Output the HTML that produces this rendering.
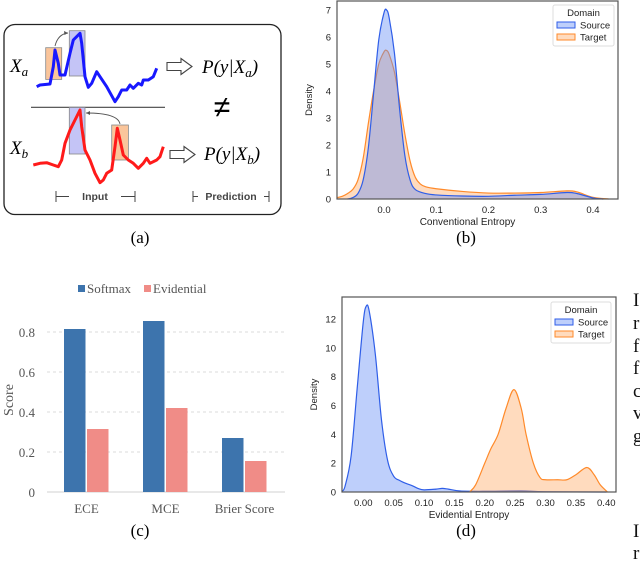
<!DOCTYPE html>
<html><head><meta charset="utf-8">
<style>
body{margin:0;background:#fff;width:640px;height:571px;overflow:hidden;font-family:"Liberation Sans",sans-serif;}
svg{display:block}
.ser{font-family:"Liberation Serif",serif}
</style></head>
<body>
<svg width="640" height="571" viewBox="0 0 640 571" xmlns="http://www.w3.org/2000/svg" id="fig">
<g id="pa">
 <rect x="4" y="24.5" width="277" height="190" rx="11" fill="#fff" stroke="#222" stroke-width="1.3"/>
 <rect x="45.7" y="47.7" width="16" height="31.7" fill="#f8b27a" fill-opacity="0.75" stroke="#888" stroke-width="0.8"/>
 <rect x="69.3" y="30.7" width="15.7" height="45.3" fill="#9c9cf0" fill-opacity="0.6" stroke="#888" stroke-width="0.8"/>
 <polyline fill="none" stroke="#1818ff" stroke-width="3" stroke-linejoin="round" points="36.7,86.7 40,85 50,84 53.3,66.7 55,50 58.3,63.3 60,75 65,75 70,53.3 73.3,40 80,33.3 81.7,43.3 85,76.7 88.3,87.3 91.7,83.3 96.7,71.7 100,76.7 106.7,86.7 115,101.7 118.3,96.7 121.7,90 126.7,90 130,85 133.3,88.3 138.3,83.3 141.7,85 143.3,80 148.3,80 153.3,76.7 156.7,68.3"/>
 <path d="M55,46 Q58,34 68,33" fill="none" stroke="#555" stroke-width="0.9"/>
 <path d="M68,33 l-4,-2 l0.5,4 z" fill="#555"/>
 <line x1="31" y1="107.3" x2="165" y2="107.3" stroke="#444" stroke-width="1.1"/>
 <rect x="69.3" y="107.3" width="15.7" height="46.7" fill="#9c9cf0" fill-opacity="0.6" stroke="#888" stroke-width="0.8"/>
 <rect x="111.7" y="125" width="16.7" height="35" fill="#f8b27a" fill-opacity="0.75" stroke="#888" stroke-width="0.8"/>
 <polyline fill="none" stroke="#ff1a1a" stroke-width="3" stroke-linejoin="round" points="33.3,165 40,163.3 46.7,162.7 53.3,165 58.3,166.7 61.7,160 65,143.3 70,130 75,120 80,110 81.7,126.7 85,150 90,160 95,173.3 100,182.7 103.3,180 106.7,173.3 111.7,170 115,146.7 117.3,128.3 120,140 123.3,155 128.3,160 133.3,163.3 138.3,168.3 143.3,163.3 146.7,158.3 150,163.3 156.7,160 160,156.7 163.3,146.7"/>
 <path d="M120,124 Q118,113 86,113" fill="none" stroke="#555" stroke-width="0.9"/>
 <path d="M86,113 l4,-2 l0,4 z" fill="#555"/>
 <text x="10" y="72" class="ser" font-size="19" font-style="italic">X<tspan font-size="13" dy="4">a</tspan></text>
 <text x="10" y="154" class="ser" font-size="19" font-style="italic">X<tspan font-size="13" dy="4">b</tspan></text>
 <path d="M167,62.5 h14 v-4 l11,8 l-11,8 v-4 h-14 z" fill="#fff" stroke="#444" stroke-width="1.1"/>
 <path d="M170,150.5 h14 v-4 l11,8 l-11,8 v-4 h-14 z" fill="#fff" stroke="#444" stroke-width="1.1"/>
 <text x="202" y="73" class="ser" font-size="19" font-style="italic">P(y|X<tspan font-size="13" dy="4">a</tspan><tspan dy="-4">)</tspan></text>
 <text x="204" y="160" class="ser" font-size="19" font-style="italic">P(y|X<tspan font-size="13" dy="4">b</tspan><tspan dy="-4">)</tspan></text>
 <text x="222" y="117" font-size="30" text-anchor="middle">≠</text>
 <text x="95" y="200" font-size="10.5" font-weight="bold" fill="#444" text-anchor="middle">Input</text>
 <path d="M56,191 v11 M56,196.5 h13 M121,196.5 h14 M135,191 v11 M193,191 v11 M193,196.5 h5 M264,196.5 h5 M269,191 v11" stroke="#444" stroke-width="1" fill="none"/>
 <text x="231" y="200" font-size="10.5" font-weight="bold" fill="#444" text-anchor="middle">Prediction</text>
 <text x="140" y="243" class="ser" font-size="17" text-anchor="middle">(a)</text>
</g>
<g id="pb"></g>
<g id="pc"></g>
<g id="pd"></g>
<g class="ser" font-size="19" fill="#111">
 <text x="633" y="306">I</text><text x="633" y="329">r</text><text x="633" y="352">f</text><text x="633" y="374">f</text><text x="633" y="397">c</text><text x="633" y="419">v</text><text x="633" y="442">g</text><text x="633" y="537">I</text><text x="633" y="559">r</text>
</g>
</svg>
<script>
const NS="http://www.w3.org/2000/svg";
function el(tag,attrs,parent,txt){const e=document.createElementNS(NS,tag);for(const k in attrs)e.setAttribute(k,attrs[k]);if(txt!==undefined)e.textContent=txt;parent.appendChild(e);return e;}

// ---- Panel b data ----
const bSrcX=[-0.07,-0.06,-0.05,-0.04,-0.03,-0.02,-0.01,0,0.005,0.01,0.02,0.03,0.04,0.05,0.06,0.08,0.1,0.15,0.2,0.25,0.3,0.35,0.37,0.4,0.42];
const bSrcY=[0,0.05,0.2,0.7,1.9,3.9,5.9,6.9,7.0,6.7,5.4,3.3,1.6,0.7,0.35,0.2,0.15,0.11,0.1,0.14,0.17,0.24,0.2,0.04,0];
const bTgtX=[-0.09,-0.08,-0.07,-0.06,-0.05,-0.04,-0.03,-0.02,-0.01,0,0.005,0.01,0.02,0.03,0.04,0.05,0.06,0.07,0.08,0.1,0.15,0.2,0.25,0.3,0.35,0.37,0.4,0.43];
const bTgtY=[0.05,0.1,0.2,0.35,0.7,1.5,2.8,4.0,5.0,5.45,5.5,5.35,4.7,3.6,2.4,1.4,0.8,0.55,0.45,0.38,0.28,0.22,0.22,0.24,0.3,0.26,0.06,0];
const bXTicks=[0,0.1,0.2,0.3,0.4];
const bXTickLabels=["0.0","0.1","0.2","0.3","0.4"];
const bYTicks=[0,1,2,3,4,5,6,7];
// ---- Panel d data ----
const dSrcX=[-0.035,-0.03,-0.02,-0.01,0,0.005,0.01,0.02,0.03,0.04,0.05,0.06,0.07,0.08,0.09,0.1,0.12,0.13,0.14,0.16,0.2,0.26,0.3,0.4];
const dSrcY=[0.05,0.4,2.5,7.2,11.8,12.9,12.5,9.5,5,2.2,1.1,0.8,0.6,0.45,0.25,0.15,0.2,0.25,0.2,0.07,0.05,0.08,0.02,0];
const dTgtX=[0.175,0.185,0.2,0.21,0.222,0.235,0.248,0.26,0.268,0.28,0.291,0.3,0.32,0.335,0.35,0.368,0.38,0.39,0.402];
const dTgtY=[0,0.5,2,3,4,5.8,7.1,5.8,4,2,1,0.85,0.85,0.85,1.2,1.7,1.2,0.5,0];
const dXTicks=[0,0.05,0.1,0.15,0.2,0.25,0.3,0.35,0.4];
const dXTickLabels=["0.00","0.05","0.10","0.15","0.20","0.25","0.30","0.35","0.40"];
const dYTicks=[0,2,4,6,8,10,12];
// ---- Panel c data ----
const cCategories=["ECE","MCE","Brier Score"];
const cSoftmax=[0.815,0.855,0.27];
const cEvidential=[0.315,0.42,0.155];
const cYTicks=[0,0.2,0.4,0.6,0.8];
const cYTickLabels=["0","0.2","0.4","0.6","0.8"];

let BASE=0;
function smoothPath(pts){let d="M"+pts[0][0]+","+pts[0][1];
 for(let i=0;i<pts.length-1;i++){const p0=pts[i-1]||pts[i],p1=pts[i],p2=pts[i+1],p3=pts[i+2]||p2;
  const c1=[p1[0]+(p2[0]-p0[0])/6,p1[1]+(p2[1]-p0[1])/6],c2=[p2[0]-(p3[0]-p1[0])/6,p2[1]-(p3[1]-p1[1])/6];
  d+=" C"+c1[0].toFixed(2)+","+Math.min(c1[1],BASE).toFixed(2)+" "+c2[0].toFixed(2)+","+Math.min(c2[1],BASE).toFixed(2)+" "+p2[0].toFixed(2)+","+p2[1].toFixed(2);}
 return d;}

function kde(g,cfg){
 const {L,R,T,B,x0,x1,y1,srcX,srcY,tgtX,tgtY,xt,xtl,yt,xlabel,leg,plab,firstTgt}=cfg;
 const sx=v=>L+(v-x0)/(x1-x0)*(R-L), sy=v=>B-v/y1*(B-T);
 BASE=B;
 el("rect",{x:L,y:T,width:R-L,height:B-T,fill:"#fff"},g);
 const series=[["target",tgtX,tgtY,"rgba(255,170,100,0.42)","#ff8a2a"],["source",srcX,srcY,"rgba(100,140,245,0.42)","#2f5ee8"]];
 if(!firstTgt)series.reverse();
 for(const [nm,xs,ys,fill,stroke] of series){
  const pts=xs.map((x,i)=>[sx(x),sy(ys[i])]);
  const d=smoothPath(pts);
  const a=el("path",{d:d+" L"+pts[pts.length-1][0]+","+B+" L"+pts[0][0]+","+B+" Z",fill:fill},g);
  
  
  const l=el("path",{d:d,fill:"none",stroke:stroke,"stroke-width":1.2},g);
  
  
 }
 el("rect",{x:L,y:T,width:R-L,height:B-T,fill:"none",stroke:"#555","stroke-width":1.2},g);
 xt.forEach((v,i)=>{const t=el("text",{x:sx(v),y:B+14,"font-size":9.5,"text-anchor":"middle",fill:"#222"},g,xtl[i]);
  
  });
 yt.forEach(v=>{const t=el("text",{x:L-6,y:sy(v)+3.5,"font-size":9.5,"text-anchor":"end",fill:"#222"},g,String(v));
  
  });
 const xl=el("text",{x:(L+R)/2-10,y:B+26,"font-size":10,"text-anchor":"middle",fill:"#222"},g,xlabel);
 
 
 const yl=el("text",{x:0,y:0,"font-size":9.5,"text-anchor":"middle",fill:"#222",transform:"translate("+(L-25)+","+((T+B)/2)+") rotate(-90)"},g,"Density");
 
 
 const lg=el("g",{},g);
 
 
 el("rect",{x:leg[0],y:leg[1],width:leg[2],height:41,rx:2,fill:"#fff",stroke:"#ddd"},lg);
 el("text",{x:leg[0]+leg[2]/2,y:leg[1]+11,"font-size":9.5,"text-anchor":"middle",fill:"#222"},lg,"Domain");
 el("rect",{x:leg[0]+4,y:leg[1]+17,width:18,height:6,fill:"rgba(100,140,245,0.42)",stroke:"#2f5ee8"},lg);
 el("text",{x:leg[0]+27,y:leg[1]+23.5,"font-size":9.5,fill:"#222"},lg,"Source");
 el("rect",{x:leg[0]+4,y:leg[1]+29,width:18,height:6,fill:"rgba(255,170,100,0.42)",stroke:"#ff8a2a"},lg);
 el("text",{x:leg[0]+27,y:leg[1]+35.5,"font-size":9.5,fill:"#222"},lg,"Target");
 const pl=el("text",{x:plab[0],y:plab[1],"font-size":17,"text-anchor":"middle",class:"ser"},g,plab[2]);
 
 
}
kde(document.getElementById("pb"),{L:337,R:618,T:1,B:199,x0:-0.09,x1:0.448,y1:7.0/((199-10)/(199-1)),srcX:bSrcX,srcY:bSrcY,tgtX:bTgtX,tgtY:bTgtY,xt:bXTicks,xtl:bXTickLabels,yt:bYTicks,xlabel:"Conventional Entropy",leg:[553,5,61],plab:[466,243,"(b)"],firstTgt:true});
kde(document.getElementById("pd"),{L:342,R:616,T:297,B:492,x0:-0.035,x1:0.416,y1:12/((492-319)/(492-297)),srcX:dSrcX,srcY:dSrcY,tgtX:dTgtX,tgtY:dTgtY,xt:dXTicks,xtl:dXTickLabels,yt:dYTicks,xlabel:"Evidential Entropy",leg:[551,302,60],plab:[466,536,"(d)"],firstTgt:false});

// ---- Panel c ----
(function(){
 const g=document.getElementById("pc");
 const B=492, perUnit=200, sy=v=>B-v*perUnit;
 const groupX=i=>64+i*79;
 cYTicks.forEach((v,i)=>{
  if(v>0)el("line",{x1:47,x2:285,y1:sy(v),y2:sy(v),stroke:"#d0d0d0","stroke-dasharray":"3,3","stroke-width":0.8},g);
  const t=el("text",{x:35,y:sy(v)+5,"font-size":13,"text-anchor":"end",fill:"#555",class:"ser"},g,cYTickLabels[i]);
  
  
 });
 el("line",{x1:47,x2:285,y1:B,y2:B,stroke:"#d0d0d0","stroke-width":1},g);
 cCategories.forEach((c,i)=>{
  const b1=el("rect",{x:groupX(i),y:sy(cSoftmax[i]),width:21.5,height:cSoftmax[i]*perUnit,fill:"#3d74ad"},g);
  
  
  const b2=el("rect",{x:groupX(i)+23,y:sy(cEvidential[i]),width:21.5,height:cEvidential[i]*perUnit,fill:"#f08c87"},g);
  
  
  const t=el("text",{x:groupX(i)+22.5,y:513,"font-size":13,"text-anchor":"middle",fill:"#555",class:"ser"},g,c);
  
  
 });
 const yl=el("text",{x:0,y:0,"font-size":14,"text-anchor":"middle",fill:"#555",class:"ser",transform:"translate(13,400) rotate(-90)"},g,"Score");
 
 
 const lg=el("g",{},g);
 
 
 el("rect",{x:78,y:285,width:7,height:7,fill:"#3d74ad"},lg);
 el("text",{x:87,y:293,"font-size":13,fill:"#555",class:"ser"},lg,"Softmax");
 el("rect",{x:144,y:285,width:7,height:7,fill:"#f08c87"},lg);
 el("text",{x:153,y:293,"font-size":13,fill:"#555",class:"ser"},lg,"Evidential");
 const pl=el("text",{x:140,y:536,"font-size":17,"text-anchor":"middle",class:"ser"},g,"(c)");
 
 
})();
</script>
</body></html>
